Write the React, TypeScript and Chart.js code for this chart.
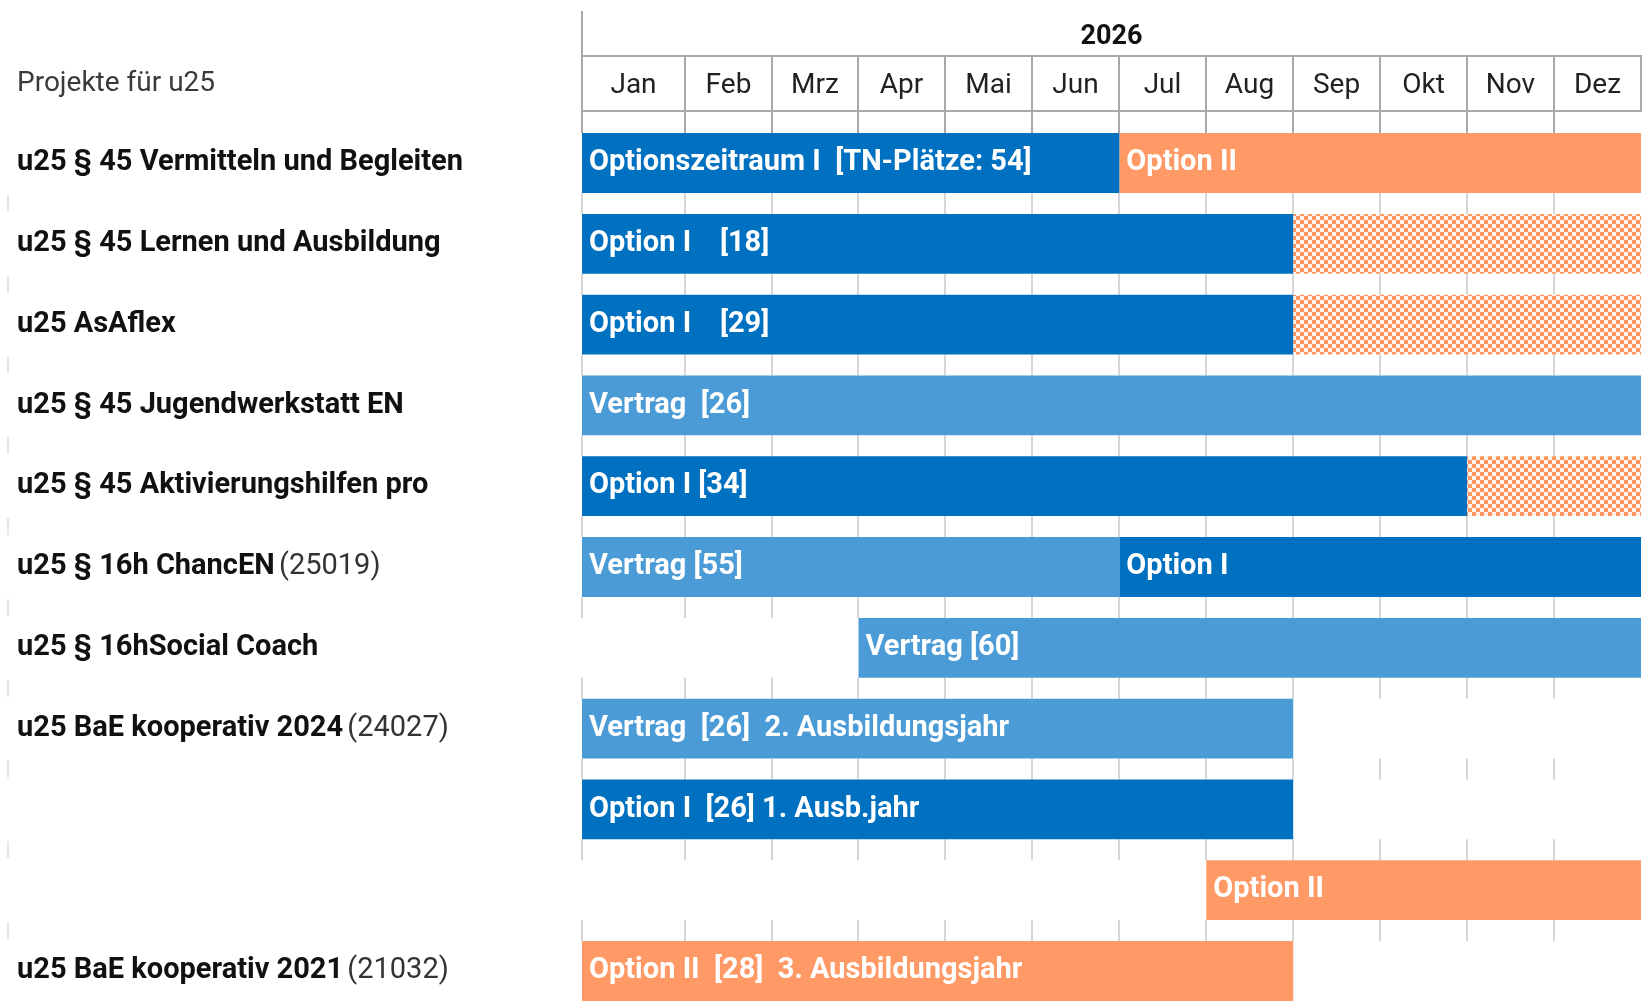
import React, { useEffect, useRef } from "react";
import { Chart, registerables, LinearScale } from "chart.js";

Chart.register(...registerables);

// ---- data ----
const months = ["Jan", "Feb", "Mrz", "Apr", "Mai", "Jun", "Jul", "Aug", "Sep", "Okt", "Nov", "Dez"];
const yearLabel = "2026";
const headerTitle = "Projekte für u25";

const projects = [
  "u25 § 45 Vermitteln und Begleiten",
  "u25 § 45 Lernen und Ausbildung",
  "u25 AsAflex",
  "u25 § 45 Jugendwerkstatt EN",
  "u25 § 45 Aktivierungshilfen pro",
  "u25 § 16h ChancEN",
  "u25 § 16hSocial Coach",
  "u25 BaE kooperativ 2024",
  "",
  "",
  "u25 BaE kooperativ 2021",
];
const projectNotes = ["", "", "", "", "", "(25019)", "", "(24027)", "", "", "(21032)"];

// month index: 0 = start of Jan, 12 = end of Dez
const optionI = [[0, 6], [0, 8], [0, 8], null, [0, 10], [6, 12], null, null, [0, 8], null, null];
const optionILabels = [
  "Optionszeitraum I  [TN-Plätze: 54]",
  "Option I    [18]",
  "Option I    [29]",
  "",
  "Option I [34]",
  "Option I",
  "",
  "",
  "Option I  [26] 1. Ausb.jahr",
  "",
  "",
];
const vertrag = [null, null, null, [0, 12], null, [0, 6], [3, 12], [0, 8], null, null, null];
const vertragLabels = ["", "", "", "Vertrag  [26]", "", "Vertrag [55]", "Vertrag [60]", "Vertrag  [26]  2. Ausbildungsjahr", "", "", ""];
const optionII = [[6, 12], null, null, null, null, null, null, null, null, [7, 12], [0, 8]];
const optionIILabels = ["Option II", "", "", "", "", "", "", "", "", "Option II", "Option II  [28]  3. Ausbildungsjahr"];
const optionOpen = [null, [8, 12], [8, 12], null, [10, 12], null, null, null, null, null, null];

// ---- custom month scale (first column wider) ----
class MonthScale extends LinearScale {
  static id = "month";
  static defaults = LinearScale.defaults;
  getPixelForValue(value: any) {
    if (value === null || value === undefined || isNaN(value)) return NaN;
    const w0 = (this.options as any).firstWeight ?? 1;
    const n = (this as any).max - (this as any).min;
    const v = value - (this as any).min;
    const units = v <= 1 ? v * w0 : w0 + (v - 1);
    return this.getPixelForDecimal(units / (n - 1 + w0));
  }
  getValueForPixel(pixel: number) {
    const w0 = (this.options as any).firstWeight ?? 1;
    const n = (this as any).max - (this as any).min;
    const units = this.getDecimalForPixel(pixel) * (n - 1 + w0);
    const v = units <= w0 ? units / w0 : 1 + (units - w0);
    return (this as any).min + v;
  }
}
Chart.register(MonthScale as any);

const FONT = "Roboto";

const headerPlugin = {
  id: "ganttHeader",
  beforeDatasetsDraw(chart: any) {
    const { ctx } = chart;
    const xs = chart.scales.x;
    const ys = chart.scales.y;
    const px = (k: number) => Math.round(xs.getPixelForValue(k));
    const pitch = ys.getPixelForValue(1) - ys.getPixelForValue(0);
    const half = (pitch * 0.74) / 2;
    const yTop = 11, yMid = 56, yBot = 111;
    ctx.save();
    // header borders
    ctx.strokeStyle = "#a9a9a9";
    ctx.lineWidth = 2;
    ctx.beginPath();
    ctx.moveTo(px(0), yTop);
    ctx.lineTo(px(0), yBot);
    ctx.moveTo(px(0), yMid);
    ctx.lineTo(px(12) + 1, yMid);
    ctx.moveTo(px(0), yBot);
    ctx.lineTo(px(12) + 1, yBot);
    for (let k = 1; k <= 12; k++) {
      ctx.moveTo(px(k), yMid);
      ctx.lineTo(px(k), yBot);
    }
    // gap between header and first row
    const firstTop = ys.getPixelForValue(0) - half;
    for (let k = 0; k < 12; k++) {
      ctx.moveTo(px(k), yBot);
      ctx.lineTo(px(k), firstTop);
    }
    ctx.stroke();
    // row gap ticks
    ctx.strokeStyle = "#d6d6d6";
    ctx.beginPath();
    for (let i = 0; i < projects.length - 1; i++) {
      const a = ys.getPixelForValue(i) + half;
      const b = ys.getPixelForValue(i + 1) - half;
      for (let k = 0; k < 12; k++) {
        ctx.moveTo(px(k), a);
        ctx.lineTo(px(k), b);
      }
    }
    ctx.stroke();
    // faint marks at far left
    ctx.strokeStyle = "#dddddd";
    ctx.lineWidth = 1.5;
    ctx.beginPath();
    for (let i = 0; i < projects.length - 1; i++) {
      const a = ys.getPixelForValue(i) + half;
      const b = ys.getPixelForValue(i + 1) - half;
      ctx.moveTo(8, a + 2);
      ctx.lineTo(8, b - 2);
    }
    ctx.stroke();

    // texts
    ctx.fillStyle = "#111111";
    ctx.textBaseline = "middle";
    ctx.textAlign = "center";
    ctx.font = `bold 27px ${FONT}`;
    ctx.fillText(yearLabel, (px(0) + px(12)) / 2, 37);
    ctx.font = `28px ${FONT}`;
    ctx.fillStyle = "#222222";
    for (let k = 0; k < 12; k++) {
      ctx.fillText(months[k], (px(k) + px(k + 1)) / 2, 86);
    }
    ctx.textAlign = "left";
    ctx.fillStyle = "#3a3a3a";
    ctx.fillText(headerTitle, 17, 84);
    ctx.restore();
  },
};

const labelPlugin = {
  id: "barLabels",
  afterDatasetsDraw(chart: any) {
    const { ctx } = chart;
    ctx.save();
    ctx.font = `bold 29px ${FONT}`;
    ctx.fillStyle = "#ffffff";
    ctx.textBaseline = "middle";
    ctx.textAlign = "left";
    chart.data.datasets.forEach((ds: any, di: number) => {
      if (!ds.barLabels) return;
      const meta = chart.getDatasetMeta(di);
      meta.data.forEach((el: any, i: number) => {
        const txt = ds.barLabels[i];
        if (!txt || !ds.data[i]) return;
        const left = Math.min(el.x, el.base);
        ctx.fillText(txt, left + 7, el.y);
      });
    });
    // notes after project names
    const ys = chart.scales.y;
    projects.forEach((p, i) => {
      const note = projectNotes[i];
      if (!note) return;
      ctx.font = `bold 29px ${FONT}`;
      const w = ctx.measureText(p + " ").width;
      ctx.font = `29px ${FONT}`;
      ctx.fillStyle = "#333333";
      ctx.fillText(note, ys.left + w - 3, ys.getPixelForValue(i));
    });
    ctx.restore();
  },
};

function makePattern(): CanvasPattern | string {
  const c = document.createElement("canvas");
  c.width = 8;
  c.height = 8;
  const g = c.getContext("2d");
  if (!g) return "#FF9A66";
  g.fillStyle = "#fff3ec";
  g.fillRect(0, 0, 8, 8);
  g.fillStyle = "#FF9560";
  g.fillRect(0, 0, 4, 4);
  g.fillRect(4, 4, 4, 4);
  const ctx = document.createElement("canvas").getContext("2d");
  return (ctx && ctx.createPattern(c, "repeat")) || "#FF9A66";
}

export default function App() {
  const ref = useRef<HTMLCanvasElement | null>(null);
  useEffect(() => {
    document.body.style.margin = "0";
    if (!ref.current) return;
    const pattern = makePattern();
    const chart = new Chart(ref.current, {
      type: "bar",
      data: {
        labels: projects,
        datasets: [
          { label: "Vertrag", data: vertrag as any, backgroundColor: "#4B9BD6", barLabels: vertragLabels } as any,
          { label: "Option I", data: optionI as any, backgroundColor: "#0070C0", barLabels: optionILabels } as any,
          { label: "Option II", data: optionII as any, backgroundColor: "#FF9A66", barLabels: optionIILabels } as any,
          { label: "Option offen", data: optionOpen as any, backgroundColor: pattern } as any,
        ],
      },
      options: {
        indexAxis: "y",
        animation: false,
        responsive: true,
        maintainAspectRatio: false,
        layout: { padding: { left: 17, right: 7, top: 163, bottom: 31 } },
        datasets: {
          bar: {
            grouped: false,
            barPercentage: 1,
            categoryPercentage: 0.74,
            clip: false as any,
            borderWidth: 0,
          } as any,
        },
        plugins: {
          legend: { display: false },
          tooltip: { enabled: false },
          title: { display: false },
        },
        scales: {
          x: {
            type: "month" as any,
            min: 0,
            max: 12,
            firstWeight: 1.18,
            display: false,
            grid: { display: false },
          } as any,
          y: {
            type: "category",
            offset: false,
            position: "left",
            grid: { display: false },
            border: { display: false },
            ticks: {
              autoSkip: false,
              crossAlign: "far",
              color: "#111111",
              font: { family: FONT, size: 29, weight: "bold" },
            },
            afterFit: (scale: any) => {
              scale.width = 565;
            },
          } as any,
        },
      },
      plugins: [headerPlugin, labelPlugin],
    });
    return () => chart.destroy();
  }, []);
  return (
    <div style={{ width: 1648, height: 1002, position: "relative", overflow: "hidden" }}>
      <canvas ref={ref} />
    </div>
  );
}
